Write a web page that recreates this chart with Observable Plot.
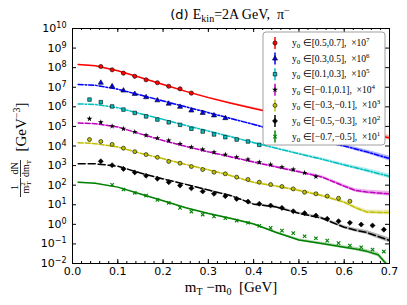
<!DOCTYPE html>
<html><head><meta charset="utf-8">
<script src="https://cdn.jsdelivr.net/npm/d3@7"></script>
<script src="https://cdn.jsdelivr.net/npm/@observablehq/plot@0.6"></script>
<style>body{margin:0;background:#fff} svg{display:block}</style>
</head><body><div id="chart"></div>
<script>
// ---- data (log10 of the scaled spectra) ----
const bins = [0.0375,0.0625,0.0875,0.1125,0.1375,0.1625,0.1875,0.2125,0.2375,0.2625,0.2875,0.3125,0.3375,0.3625,0.3875,0.4125,0.4375,0.4625,0.4875,0.5125,0.5375,0.5625,0.5875,0.6125,0.6375,0.6625,0.6875];
const ptsRed     = [null,8.06,7.89,7.72,7.56,7.38,7.23,7.05,6.92,6.70,null,null,null,null,null,null,null,null,null,null,null,null,null,null,null,null,null];
const ptsBlue    = [null,7.23,7.05,6.83,6.66,6.49,6.33,6.16,6.00,5.81,5.69,5.56,5.42,null,null,null,null,null,null,null,null,null,null,null,null,null,null];
const ptsCyan    = [6.37,6.24,6.02,5.86,5.69,5.51,5.35,5.21,5.08,4.88,4.74,4.59,4.45,4.33,4.23,4.06,null,null,null,null,null,null,null,null,null,null,null];
const ptsMagenta = [5.39,5.21,5.01,4.88,4.72,4.55,4.40,4.28,4.11,3.94,3.82,3.68,3.56,3.43,3.31,3.17,3.05,2.92,2.80,2.63,2.44,null,null,null,null,null,null];
const ptsYellow  = [4.33,4.23,4.08,3.89,3.71,3.56,3.42,3.21,3.12,2.95,2.80,2.66,2.58,2.41,2.29,2.15,2.03,1.93,1.81,1.64,1.56,1.44,1.33,1.18,null,null,null];
const ptsBlack   = [null,3.22,3.02,2.83,2.65,2.48,2.33,2.15,1.98,1.84,1.68,1.56,1.44,1.30,1.16,1.05,0.96,0.84,0.67,0.57,0.45,0.28,0.16,0.08,-0.01,-0.06,-0.27];
const ptsGreen   = [null,null,2.02,1.78,1.61,1.47,1.25,1.10,0.84,0.65,0.50,0.40,0.31,0.19,0.08,-0.08,-0.18,-0.32,-0.45,-0.61,-0.71,-0.83,-0.96,-1.08,-1.17,-1.29,-1.39];

const grid = [0.0125,0.05,0.1,0.15,0.2,0.25,0.3,0.35,0.4,0.45,0.5,0.55,0.6,0.625,0.65,0.675,0.7];
const curveRed     = [8.16,8.10,7.84,7.50,7.14,6.79,6.47,6.18,5.92,5.66,5.40,5.15,4.90,4.78,4.66,4.54,4.42];
const curveBlue    = [7.14,7.10,6.90,6.60,6.30,6.00,5.70,5.40,5.10,4.78,4.50,4.25,4.00,3.85,3.70,3.53,3.36];
const curveCyan    = [6.15,6.12,5.95,5.65,5.36,5.05,4.76,4.47,4.17,3.88,3.60,3.33,3.03,2.89,2.75,2.60,2.45];
const curveMagenta = [5.17,5.14,4.97,4.62,4.28,3.98,3.70,3.44,3.18,2.93,2.68,2.42,1.95,1.73,1.65,1.60,1.56];
const curveYellow  = [4.17,4.12,3.95,3.63,3.35,3.06,2.78,2.48,2.14,1.95,1.73,1.47,1.13,0.85,0.63,0.61,0.60];
const curveBlack   = [3.09,3.09,2.97,2.62,2.32,2.04,1.75,1.46,1.03,0.88,0.56,0.32,-0.15,-0.30,-0.42,-0.62,-0.82];
const curveGreen   = [2.15,2.10,1.90,1.55,1.20,0.85,0.55,0.30,0.02,-0.42,-0.80,-0.98,-1.17,-1.26,-1.38,-1.55,-2.20];
const bandHalf     = [0.01,0.01,0.01,0.015,0.02,0.025,0.03,0.035,0.04,0.05,0.06,0.07,0.08,0.09,0.10,0.11,0.12];

const labels = ["[0.5,0.7]","[0.3,0.5]","[0.1,0.3]","[−0.1,0.1]","[−0.3,−0.1]","[−0.5,−0.3]","[−0.7,−0.5]"];
const scales = ["7","6","5","4","3","2","1"];
const xTicks = [0,0.1,0.2,0.3,0.4,0.5,0.6,0.7];
const xMinor = d3.range(0,36).map(i=>i*0.02);
const yTicks = d3.range(-2,11).map(e=>Math.pow(10,e));

// ---- styles ----
const styles = [
  {pts:ptsRed, curve:curveRed, color:"#ff0000", dash:null, symbol:"circle", fill:"#ff0000", stroke:"#000", r:2.1},
  {pts:ptsBlue, curve:curveBlue, color:"#0000ff", dash:"5,2,1.5,2", symbol:"triangle", fill:"#0000ff", stroke:"#000", r:1.9},
  {pts:ptsCyan, curve:curveCyan, color:"#00bfbf", dash:"5,2,1.5,2", symbol:"square", fill:"#00bfbf", stroke:"#000", r:2.0},
  {pts:ptsMagenta, curve:curveMagenta, color:"#bf00bf", dash:"5,2", symbol:"star", fill:"#000", stroke:"none", r:1.8},
  {pts:ptsYellow, curve:curveYellow, color:"#bfbf00", dash:"5,2", symbol:"circle", fill:"#bfbf00", stroke:"#000", r:2.0},
  {pts:ptsBlack, curve:curveBlack, color:"#000000", dash:"7,3", symbol:"diamond2", fill:"#000", stroke:"#000", r:2.3},
  {pts:ptsGreen, curve:curveGreen, color:"#008000", dash:null, symbol:"times", fill:"none", stroke:"#008000", r:1.7}
];

const P = v => Math.pow(10, v);
const marks = [];
styles.forEach(s => {
  const c = grid.map((x,i)=>({x, y:P(s.curve[i]), lo:P(s.curve[i]-bandHalf[i]), hi:P(s.curve[i]+bandHalf[i])}));
  marks.push(Plot.areaY(c, {x:"x", y1:"lo", y2:"hi", fill:s.color, fillOpacity:0.3, clip:true}));
  marks.push(Plot.line(c, {x:"x", y:"y", stroke:s.color, strokeWidth:1.5, strokeDasharray:s.dash, clip:true}));
});
styles.forEach(s => {
  const p = bins.map((x,i)=>({x, y:s.pts[i]})).filter(d=>d.y!==null).map(d=>({x:d.x, y:P(d.y)}));
  marks.push(Plot.dot(p, {x:"x", y:"y", symbol:s.symbol, r:s.r, fill:s.fill, stroke:s.stroke,
    strokeWidth: s.symbol==="times"?1.1:0.6, clip:true}));
});

const FH = 235, FW = 317;
marks.push(
  Plot.tickX(xTicks, {x:d=>d, insetTop:FH-4, stroke:"#000"}),
  Plot.tickX(xTicks, {x:d=>d, insetBottom:FH-4, stroke:"#000"}),
  Plot.tickX(xMinor, {x:d=>d, insetTop:FH-2, stroke:"#000"}),
  Plot.tickX(xMinor, {x:d=>d, insetBottom:FH-2, stroke:"#000"}),
  Plot.tickY(yTicks, {y:d=>d, insetRight:FW-4, stroke:"#000"}),
  Plot.tickY(yTicks, {y:d=>d, insetLeft:FW-4, stroke:"#000"}),
  Plot.axisX({ticks:xTicks, tickSize:0, tickPadding:4, tickFormat:d3.format(".1f"), label:null}),
  Plot.axisY({ticks:yTicks, tickSize:0, tickPadding:6, tickFormat:d=>String(Math.round(Math.log10(d))), label:null}),
  Plot.frame({stroke:"#000"})
);

const svg = Plot.plot({
  width:407, height:305, marginLeft:72, marginRight:18, marginTop:28, marginBottom:42,
  x:{domain:[0,0.7]},
  y:{type:"log", domain:[1e-2,1e10]},
  style:{fontFamily:"DejaVu Sans", fontSize:"11px", background:"#fff", color:"#000"},
  marks
});
document.getElementById("chart").appendChild(svg);
const S = d3.select(svg);

// superscript exponents on y tick labels
S.selectAll('[aria-label="y-axis tick label"] text').each(function(){
  const e = this.textContent.replace("-","−");
  const t = d3.select(this);
  t.text("10");
  t.append("tspan").attr("dy","-0.5em").attr("font-size","8px").text(e);
});

const serif = "Liberation Serif";
// title
const T = S.append("text").attr("x",230).attr("y",19).attr("text-anchor","middle")
  .attr("font-size",13).style("white-space","pre").attr("fill","#000");
T.append("tspan").attr("font-family","DejaVu Sans").text("(d) ");
T.append("tspan").attr("font-family",serif).attr("font-size",14).text("E");
T.append("tspan").attr("font-family",serif).attr("font-size",10).attr("dy",3).text("kin");
T.append("tspan").attr("font-family",serif).attr("font-size",14).attr("dy",-3).text("=2A GeV,  π");
T.append("tspan").attr("font-family",serif).attr("font-size",10).attr("dy",-5).text("−");

// x label
const XL = S.append("text").attr("x",231).attr("y",292).attr("text-anchor","middle")
  .attr("font-family",serif).attr("font-size",15).style("white-space","pre").attr("fill","#000");
XL.append("tspan").text("m");
XL.append("tspan").attr("font-size",10).attr("dy",3).text("T");
XL.append("tspan").attr("dy",-3).text(" −m");
XL.append("tspan").attr("font-size",10).attr("dy",3).text("0");
XL.append("tspan").attr("dy",-3).text("  [GeV]");

// y label (rotated)
const YL = S.append("g").attr("transform","translate(20,147) rotate(-90)")
  .attr("font-family",serif).attr("fill","#000");
YL.append("text").attr("x",-40.5).attr("y",-2).attr("text-anchor","middle").attr("font-size",10).text("1");
const den = YL.append("text").attr("x",-40.5).attr("y",8.5).attr("text-anchor","middle").attr("font-size",10);
den.append("tspan").text("m");
den.append("tspan").attr("font-size",7).attr("dy",-4).attr("dx",0).text("2");
den.append("tspan").attr("font-size",7).attr("dx",-3.5).attr("dy",6).text("T");
YL.append("line").attr("x1",-50).attr("x2",-31).attr("y1",0.5).attr("y2",0.5).attr("stroke","#000").attr("stroke-width",0.8);
YL.append("text").attr("x",-21.5).attr("y",-2).attr("text-anchor","middle").attr("font-size",10).text("dN");
const den2 = YL.append("text").attr("x",-21.5).attr("y",8.5).attr("text-anchor","middle").attr("font-size",10);
den2.append("tspan").text("dm");
den2.append("tspan").attr("font-size",7).attr("dy",2).text("T");
YL.append("line").attr("x1",-30).attr("x2",-13).attr("y1",0.5).attr("y2",0.5).attr("stroke","#000").attr("stroke-width",0.8);
const gev = YL.append("text").attr("x",20).attr("y",6).attr("text-anchor","middle").attr("font-size",15).style("white-space","pre");
gev.append("tspan").text("[GeV");
gev.append("tspan").attr("font-size",10).attr("dy",-6).text("−3");
gev.append("tspan").attr("dy",6).text("]");

// legend
const L = S.append("g");
L.append("rect").attr("x",263).attr("y",32).attr("width",122).attr("height",113).attr("rx",3)
  .attr("fill","#fff").attr("stroke","#888").attr("stroke-width",0.8);
const symMap = {circle:d3.symbolCircle, triangle:d3.symbolTriangle, square:d3.symbolSquare, star:d3.symbolStar, diamond2:d3.symbolDiamond2, times:d3.symbolTimes};
styles.forEach((s,i) => {
  const y = 43 + i*15.6;
  L.append("line").attr("x1",275).attr("x2",275).attr("y1",y-6).attr("y2",y+6).attr("stroke",s.color).attr("stroke-width",1.5);
  L.append("path").attr("transform",`translate(275,${y})`)
    .attr("d", d3.symbol(symMap[s.symbol], Math.PI*s.r*s.r)())
    .attr("fill",s.fill).attr("stroke",s.stroke).attr("stroke-width", s.symbol==="times"?1.1:0.6);
  const t = L.append("text").attr("x",292).attr("y",y+3).attr("text-anchor","start").attr("font-family",serif).attr("font-size",9.5)
    .style("white-space","pre").attr("fill","#000");
  t.append("tspan").text("y");
  t.append("tspan").attr("font-size",7).attr("dy",2).text("0");
  t.append("tspan").attr("dy",-2).text(" ∈" + labels[i] + ",  ×10");
  t.append("tspan").attr("font-size",7).attr("dy",-4).text(scales[i]);
});
</script>
</body></html>
